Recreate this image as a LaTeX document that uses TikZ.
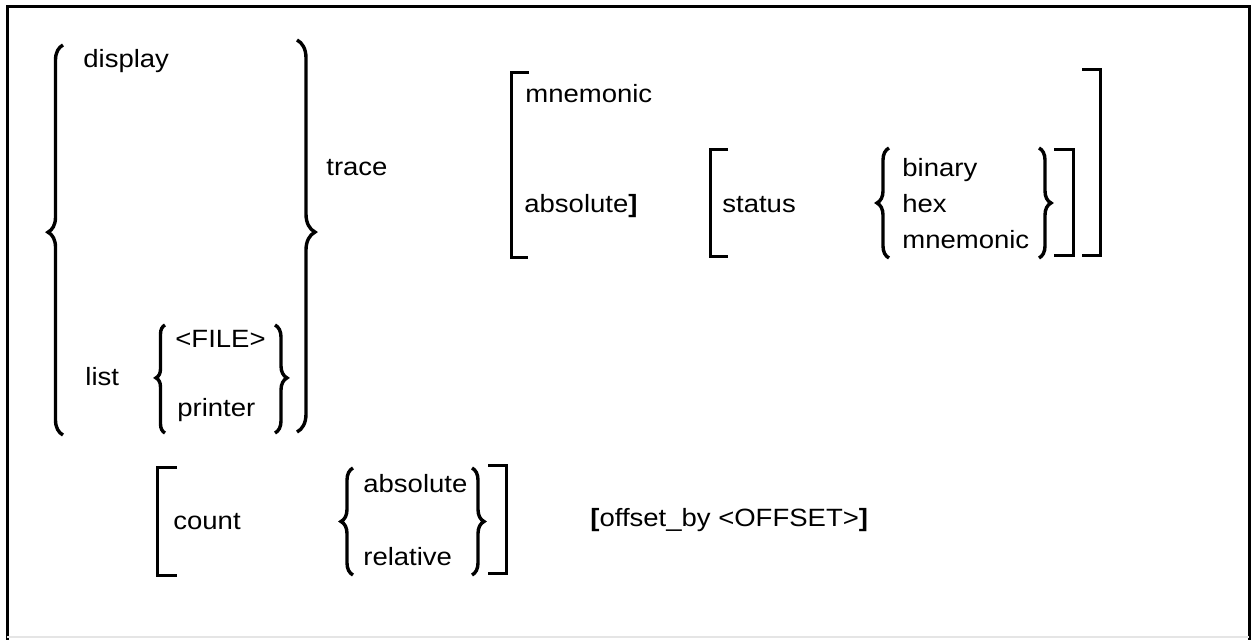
\documentclass[tikz,border=0pt]{standalone}
\usepackage{fontspec}
\setmainfont{Liberation Sans}[FakeStretch=1.1]
\usetikzlibrary{decorations.pathreplacing}
\begin{document}
\begin{tikzpicture}[x=0.5pt,y=-0.5pt]
\tikzset{
  lbl/.style={anchor=base west, inner sep=0pt, font=\fontsize{12.5}{15}\selectfont},
  brk/.style={line width=1.5pt, line join=miter, line cap=butt},
  brc/.style={line width=1.7pt, decorate},
  frame/.style={line width=1.5pt},
}
\useasboundingbox (0,0) rectangle (1252,640);
% frame
\draw[frame] (7,640) -- (7,7) -- (1249,7) -- (1249,640);
\draw[line width=0.8pt, gray!20] (7,637) -- (1249,637);

% left group
\draw[brc, decoration={brace, amplitude=7.5pt, aspect=0.52}] (63,435) -- (63,45);
\node[lbl] (display) at (83,68) {display};
\node[lbl] (list) at (85,386) {list};
\draw[brc, decoration={brace, amplitude=4.5pt, aspect=0.51}] (165,433) -- (165,325);
\node[lbl] (file) at (175,348) {<FILE>};
\node[lbl] (printer) at (177,417) {printer};
\draw[brc, decoration={brace, amplitude=6pt, aspect=0.49}] (275,325) -- (275,433);
\draw[brc, decoration={brace, amplitude=9pt, aspect=0.49}] (297,40) -- (297,432);
\node[lbl] (trace) at (326,176) {trace};

% right group
\draw[brk] (529,73) -- (511,73) -- (511,258) -- (528,258);
\node[lbl] (mnem1) at (525,103) {mnemonic};
\node[lbl] (abs1) at (524,213) {absolute\textbf{]}};
\draw[brk] (728,150) -- (710,150) -- (710,257) -- (728,257);
\node[lbl] (status) at (722,213) {status};
\draw[brc, decoration={brace, amplitude=6pt, aspect=0.5}] (889,258) -- (889,148);
\node[lbl] (binary) at (902,177) {binary};
\node[lbl] (hex) at (902,213) {hex};
\node[lbl] (mnem2) at (902,249) {mnemonic};
\draw[brc, decoration={brace, amplitude=6pt, aspect=0.5}] (1039,148) -- (1039,258);
\draw[brk] (1054,150) -- (1073,150) -- (1073,256) -- (1054,256);
\draw[brk] (1082,70) -- (1100,70) -- (1100,256) -- (1082,256);

% bottom row
\draw[brk] (177,468) -- (157,468) -- (157,575) -- (177,575);
\node[lbl] (count) at (173,530) {count};
\draw[brc, decoration={brace, amplitude=6pt, aspect=0.5}] (353,575) -- (353,468);
\node[lbl] (abs2) at (363,493) {absolute};
\node[lbl] (rel) at (363,566) {relative};
\draw[brc, decoration={brace, amplitude=6pt, aspect=0.5}] (472,468) -- (472,575);
\draw[brk] (488,466) -- (506,466) -- (506,573) -- (488,573);
\node[lbl] (offset) at (590,526) {\textbf{[}offset\_by <OFFSET>\textbf{]}};
\end{tikzpicture}
\end{document}
